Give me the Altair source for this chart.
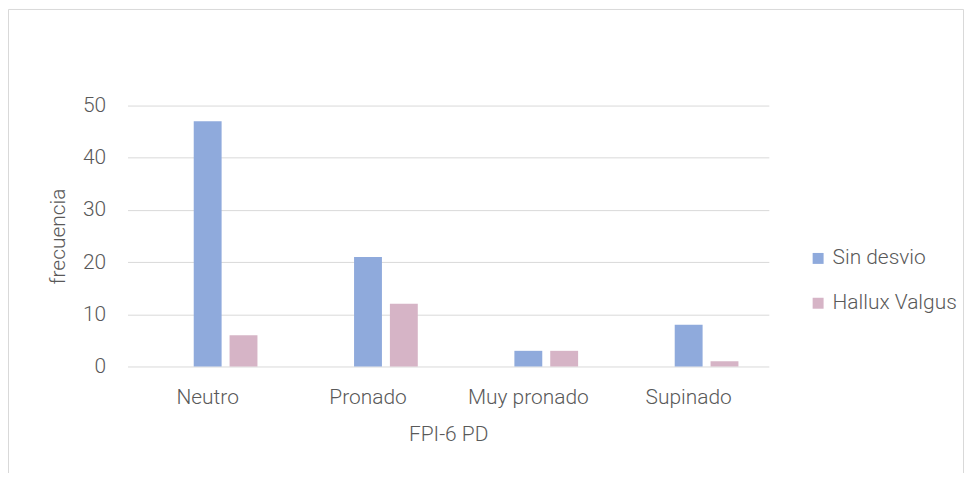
import altair as alt
import pandas as pd

categories = ["Neutro", "Pronado", "Muy pronado", "Supinado"]
series = ["Sin desvio", "Hallux Valgus"]
sin_desvio = [47, 21, 3, 8]
hallux_valgus = [6, 12, 3, 1]
colors = ["#8FAADC", "#D6B4C6"]

rows = []
for c, v in zip(categories, sin_desvio):
    rows.append({"cat": c, "serie": "Sin desvio", "val": v})
for c, v in zip(categories, hallux_valgus):
    rows.append({"cat": c, "serie": "Hallux Valgus", "val": v})
df = pd.DataFrame(rows)

FONT = "Roboto"
TXT = "#595959"
FS = 21
W, H = 644, 262
PL, PT, PR, PB = 120, 97, 198, 106

bars = alt.Chart(df).mark_bar().encode(
    x=alt.X("cat:N", sort=categories,
            scale=alt.Scale(paddingInner=0.379, paddingOuter=0.1895),
            axis=alt.Axis(title="FPI-6 PD", labelAngle=0, domain=False, ticks=False,
                          labelPadding=20, titlePadding=16)),
    xOffset=alt.XOffset("serie:N",
                        scale=alt.Scale(domain=["_", "Sin desvio", "Hallux Valgus"],
                                        paddingInner=0.2222, paddingOuter=0)),
    y=alt.Y("val:Q", scale=alt.Scale(domain=[0, 50]),
            axis=alt.Axis(title="frecuencia", values=[0, 10, 20, 30, 40, 50],
                          domain=False, ticks=False, labelPadding=22, titlePadding=14,
                          gridColor="#D9D9D9", gridWidth=1)),
    color=alt.Color("serie:N", scale=alt.Scale(domain=series, range=colors),
                    legend=alt.Legend(title=None, orient="none", legendX=683, legendY=143,
                                      symbolType="square", symbolSize=121,
                                      symbolStrokeWidth=0, labelFontSize=FS,
                                      labelFontWeight=300,
                                      labelColor=TXT, labelFont=FONT, rowPadding=23,
                                      labelOffset=4)),
)

frame = alt.Chart(pd.DataFrame({"a": [0]})).mark_rect(
    fill=None, stroke="#D9D9D9", strokeWidth=1
).encode(
    x=alt.value(-119.5), x2=alt.value(W + 195.5),
    y=alt.value(-96.5), y2=alt.value(H + PB + 5),
)

chart = alt.layer(frame, bars).properties(
    width=W, height=H,
    autosize=alt.AutoSizeParams(type="none"),
    padding={"left": PL, "top": PT, "right": PR, "bottom": PB},
).configure_view(stroke=None).configure_axis(
    labelFont=FONT, titleFont=FONT, labelFontSize=FS, titleFontSize=FS,
    labelFontWeight=300, titleFontWeight=300,
    labelColor=TXT, titleColor=TXT,
).configure_axisX(grid=False)

chart.save("out.html", embed_options={"renderer": "svg", "actions": False})
